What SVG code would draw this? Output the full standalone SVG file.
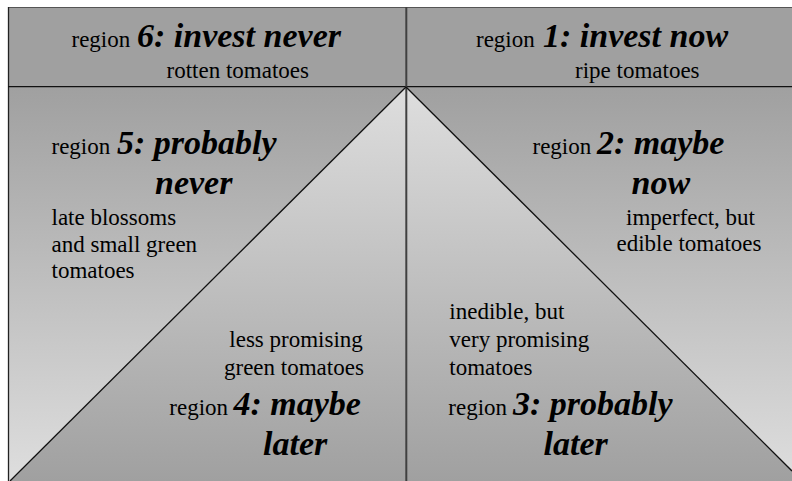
<svg xmlns="http://www.w3.org/2000/svg" width="792" height="481" viewBox="0 0 792 481">
  <defs>
    <!-- outer field: dark at the top, light at the bottom -->
    <linearGradient id="outerFade" x1="0" y1="87" x2="0" y2="481" gradientUnits="userSpaceOnUse">
      <stop offset="0" stop-color="#a0a0a0"/>
      <stop offset="1" stop-color="#dedede"/>
    </linearGradient>
    <!-- triangle: light at the apex, dark at the base -->
    <linearGradient id="innerFade" x1="0" y1="87" x2="0" y2="481" gradientUnits="userSpaceOnUse">
      <stop offset="0" stop-color="#dedede"/>
      <stop offset="1" stop-color="#a0a0a0"/>
    </linearGradient>
  </defs>
  <style>
    text { font-family: "Liberation Serif", "Times New Roman", serif; fill: #000; }
    .lbl { font-size: 23px; }
    .big { font-size: 34px; font-weight: bold; font-style: italic; }
    .edge { stroke: #111; stroke-width: 1.3; fill: none; }
  </style>

  <rect x="0" y="0" width="792" height="481" fill="#ffffff"/>

  <!-- background fields -->
  <rect x="8" y="7.5" width="784" height="79.2" fill="#a0a0a0"/>
  <rect x="8" y="86.7" width="784" height="394.3" fill="url(#outerFade)"/>
  <polygon points="406,87 10,481 792,481 792,471" fill="url(#innerFade)"/>

  <!-- dividing lines -->
  <g id="connectors">
    <line x1="8" y1="7.5" x2="792" y2="7.5" stroke="#555" stroke-width="1.2"/>
    <line x1="8.5" y1="7" x2="8.5" y2="481" stroke="#222" stroke-width="1.3"/>
    <line x1="8" y1="86.7" x2="792" y2="86.7" class="edge"/>
    <line x1="406.3" y1="7" x2="406.3" y2="481" stroke="#404040" stroke-width="2"/>
    <line x1="406" y1="87" x2="10" y2="481" class="edge"/>
    <line x1="406" y1="87" x2="792" y2="471" class="edge"/>
  </g>

  <g id="region6">
    <text class="lbl" x="71.5" y="47">region</text>
    <text class="big" x="137" y="47">6: invest never</text>
    <text class="lbl" x="166.5" y="77.5">rotten tomatoes</text>
  </g>

  <g id="region1">
    <text class="lbl" x="476" y="47">region</text>
    <text class="big" x="543" y="47">1: invest now</text>
    <text class="lbl" x="575" y="77.5">ripe tomatoes</text>
  </g>

  <g id="region5">
    <text class="lbl" x="51.5" y="153.5">region</text>
    <text class="big" x="117" y="153.5">5: probably</text>
    <text class="big" x="155" y="193.5">never</text>
    <text class="lbl" x="51.5" y="225">late blossoms</text>
    <text class="lbl" x="51.5" y="251.5">and small green</text>
    <text class="lbl" x="51.5" y="278">tomatoes</text>
  </g>

  <g id="region2">
    <text class="lbl" x="532.5" y="153.5">region</text>
    <text class="big" x="597" y="153.5">2: maybe</text>
    <text class="big" x="631.5" y="193.5">now</text>
    <text class="lbl" x="626" y="224.5">imperfect, but</text>
    <text class="lbl" x="616.5" y="251">edible tomatoes</text>
  </g>

  <g id="region4">
    <text class="lbl" x="229.3" y="347.3">less promising</text>
    <text class="lbl" x="224" y="375">green tomatoes</text>
    <text class="lbl" x="169.3" y="414.5">region</text>
    <text class="big" x="233.5" y="414.5">4: maybe</text>
    <text class="big" x="263" y="455">later</text>
  </g>

  <g id="region3">
    <text class="lbl" x="449.3" y="319">inedible, but</text>
    <text class="lbl" x="449.3" y="346.7">very promising</text>
    <text class="lbl" x="449.3" y="375">tomatoes</text>
    <text class="lbl" x="448.3" y="414.5">region</text>
    <text class="big" x="513" y="414.5">3: probably</text>
    <text class="big" x="543.5" y="455">later</text>
  </g>
</svg>
